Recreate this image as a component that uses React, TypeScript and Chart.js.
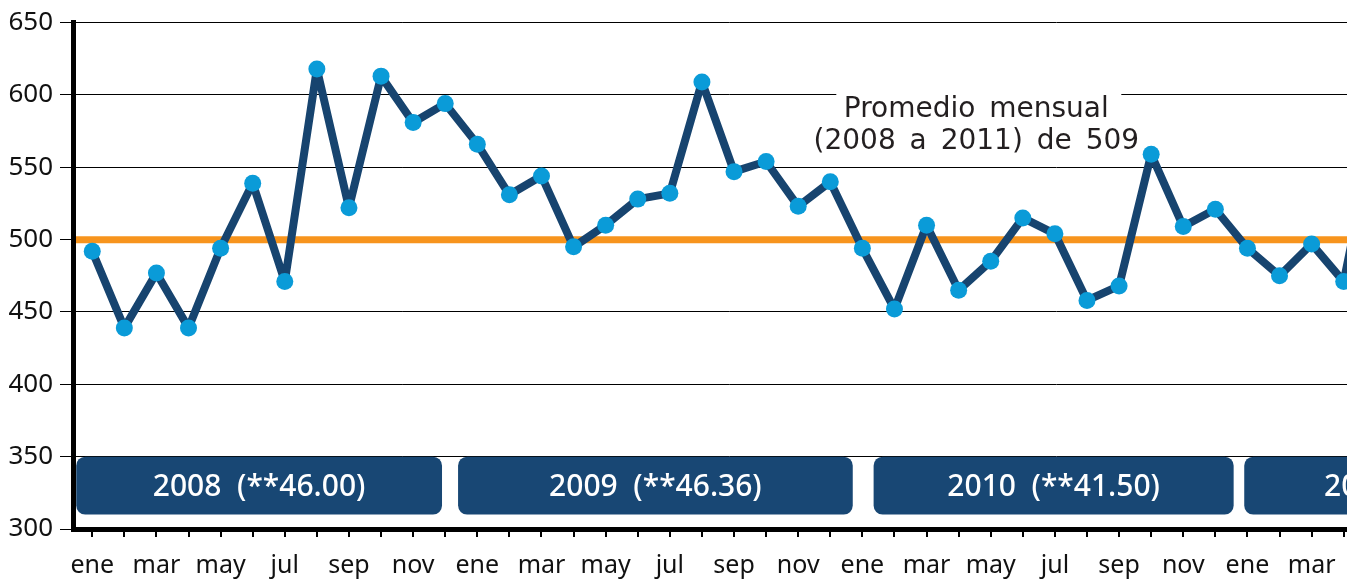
import React, { useEffect, useRef } from 'react';
import { Chart, registerables } from 'chart.js';

Chart.register(...registerables);

const monthNames = ['ene', 'feb', 'mar', 'abr', 'may', 'jun', 'jul', 'ago', 'sep', 'oct', 'nov', 'dic'];

// Monthly values, ene 2008 .. may 2011 (last one runs off the right edge)
const values = [
  492, 439, 477, 439, 494, 539, 471, 618, 522, 613, 581, 594,
  566, 531, 544, 495, 510, 528, 532, 609, 547, 554, 523, 540,
  494, 452, 510, 465, 485, 515, 504, 458, 468, 559, 509, 521,
  494, 475, 497, 471, 580,
];

const yMin = 300;
const yMax = 650;
const yStep = 50;

const referenceValue = 500;

const yearLabels = ['2008  (**46.00)', '2009  (**46.36)', '2010  (**41.50)', '2011  (**44.00)'];
const yearStart = [-0.5, 11.4, 24.35, 35.9];
const yearEnd = [10.9, 23.7, 35.57, 47.5];
const yearBoxTop = 350;
const yearBoxBottom = 310;

const noteLines = ['Promedio mensual', '(2008 a 2011) de 509'];
const noteX = 27.55;
const noteY = [590, 567.5];

export default function App() {
  const ref = useRef<HTMLCanvasElement>(null);

  useEffect(() => {
    const overlay = {
      id: 'overlay',
      beforeDatasetsDraw(chart: any) {
        const { ctx, chartArea, scales } = chart;
        const xs = scales.x;
        const ys = scales.y;
        ctx.save();
        // reference line
        const yr = ys.getPixelForValue(referenceValue);
        ctx.strokeStyle = '#F7941D';
        ctx.lineWidth = 7;
        ctx.beginPath();
        ctx.moveTo(chartArea.left + 3, yr);
        ctx.lineTo(chartArea.right, yr);
        ctx.stroke();

        // year boxes
        const top = ys.getPixelForValue(yearBoxTop);
        const bottom = ys.getPixelForValue(yearBoxBottom);
        for (let i = 0; i < yearLabels.length; i++) {
          const x0 = xs.getPixelForValue(yearStart[i]);
          const x1 = xs.getPixelForValue(yearEnd[i]);
          ctx.fillStyle = '#184774';
          ctx.beginPath();
          (ctx as any).roundRect(x0, top, x1 - x0, bottom - top, 9);
          ctx.fill();
          ctx.fillStyle = '#ffffff';
          ctx.font = '500 30px "Noto Sans"';
          ctx.textAlign = 'center';
          ctx.textBaseline = 'middle';
          ctx.fillText(yearLabels[i], (x0 + x1) / 2, (top + bottom) / 2 + 2);
        }

        // note
        const cx = xs.getPixelForValue(noteX);
        const l1 = ys.getPixelForValue(noteY[0]);
        const l2 = ys.getPixelForValue(noteY[1]);
        ctx.fillStyle = '#ffffff';
        ctx.fillRect(cx - 140, l1 - 20, 285, l2 - l1 + 38);
        ctx.fillStyle = '#231f20';
        ctx.font = '28px "DejaVu Sans"';
        (ctx as any).wordSpacing = '5px';
        ctx.textAlign = 'center';
        ctx.textBaseline = 'middle';
        ctx.fillText(noteLines[0], cx, l1);
        ctx.fillText(noteLines[1], cx, l2);
        ctx.restore();
      },
    };

    const chart = new Chart(ref.current as HTMLCanvasElement, {
      type: 'line',
      data: {
        datasets: [
          {
            data: values.map((v, i) => ({ x: i, y: v })),
            borderColor: '#17446F',
            borderWidth: 8,
            borderJoinStyle: 'round',
            pointRadius: 8.5,
            pointBackgroundColor: '#0A9BD8',
            pointBorderWidth: 0,
            tension: 0,
          },
        ],
      },
      options: {
        responsive: false,
        animation: false,
        layout: { padding: { top: 20, left: 0, right: 0, bottom: 0 } },
        plugins: {
          legend: { display: false },
          tooltip: { enabled: false },
        },
        scales: {
          x: {
            type: 'linear',
            min: -0.6,
            max: 40.24,
            afterBuildTicks: (s: any) => {
              s.ticks = values.slice(0, 40).map((_, i) => ({ value: i }));
            },
            afterFit: (s: any) => {
              s.height = 53;
            },
            ticks: {
              autoSkip: false,
              maxRotation: 0,
              minRotation: 0,
              padding: 14,
              color: '#111',
              font: { family: 'Noto Sans', size: 25 },
              callback: (v: any) => (Number(v) % 2 === 0 ? monthNames[Number(v) % 12] : ''),
            },
            grid: { drawOnChartArea: false, tickLength: 8, color: '#000', lineWidth: 2 },
            border: { display: true, color: '#000', width: 5 },
          },
          y: {
            min: yMin,
            max: yMax,
            afterFit: (s: any) => {
              s.width = 73;
            },
            ticks: {
              stepSize: yStep,
              padding: 7,
              color: '#111',
              font: { family: 'Noto Sans', size: 26 },
            },
            grid: { color: '#000', lineWidth: 1, tickLength: 13 },
            border: { display: true, color: '#000', width: 5 },
          },
        },
      },
      plugins: [overlay],
    } as any);
    return () => chart.destroy();
  }, []);

  return (
    <div
      style={{
        position: 'fixed',
        left: 0,
        top: 0,
        width: 1347,
        height: 582,
        overflow: 'hidden',
        background: '#fff',
      }}
    >
      <canvas ref={ref} width={1392} height={582} style={{ display: 'block' }} />
    </div>
  );
}
